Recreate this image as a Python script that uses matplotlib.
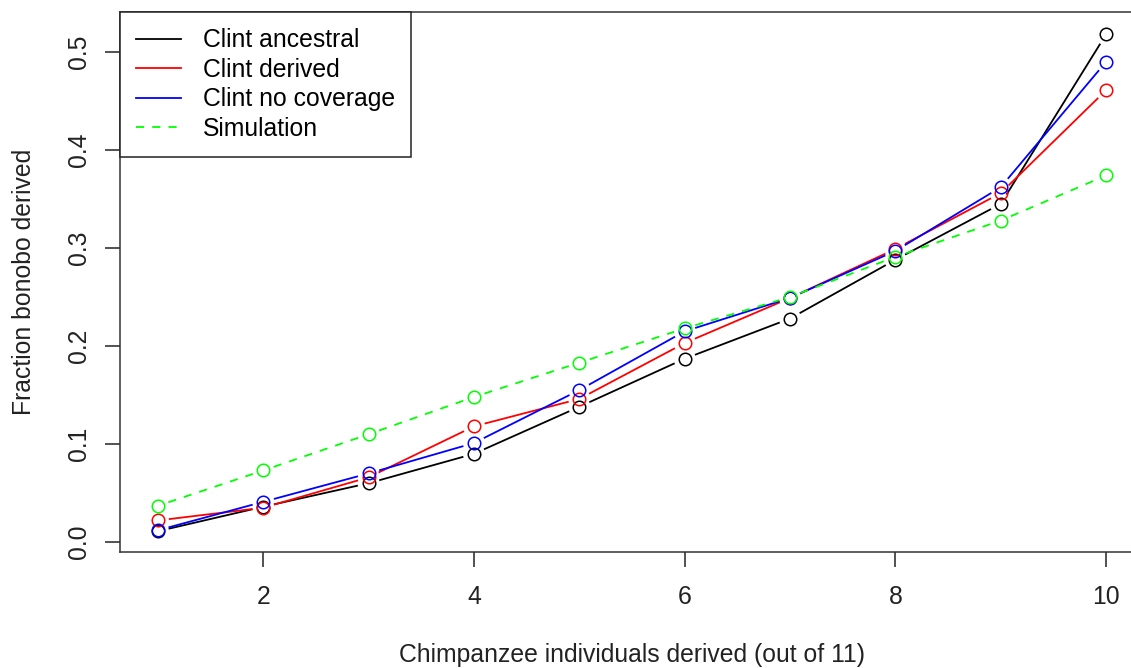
import numpy as np
import matplotlib
matplotlib.use('Agg')
import matplotlib.pyplot as plt

plt.rcParams['font.family'] = ['Liberation Sans', 'DejaVu Sans']

# fraction of bonobo derived per count of derived chimpanzees
n_derived = [1, 2, 3, 4, 5, 6, 7, 8, 9, 10]
clint_ancestral = [0.011, 0.036, 0.060, 0.090, 0.138, 0.187, 0.228, 0.288, 0.345, 0.518]
clint_derived = [0.022, 0.035, 0.066, 0.118, 0.146, 0.203, 0.249, 0.299, 0.356, 0.461]
clint_nocov = [0.012, 0.041, 0.070, 0.101, 0.155, 0.215, 0.249, 0.297, 0.362, 0.490]
simulation = [0.037, 0.073, 0.110, 0.148, 0.183, 0.218, 0.250, 0.291, 0.328, 0.374]

series = [
    ('Clint ancestral', clint_ancestral, 'black', '-'),
    ('Clint derived', clint_derived, '#ff0000', '-'),
    ('Clint no coverage', clint_nocov, '#0000ff', '-'),
    ('Simulation', simulation, '#00ff00', (0, (4.5, 4.5))),
]

DPI = 100
fig = plt.figure(figsize=(11.31, 6.68), dpi=DPI)
ax = fig.add_axes([120 / 1131, 116 / 668, 1024 / 1131, 539.6 / 668])
ax.set_xlim(0.64, 10.36)
ax.set_ylim(-0.0102, 0.5404)

FS = 17.8
GAP = 11  # px gap between line ends and markers, like R type="b"


def gapped_segments(x, y):
    # shorten each segment in pixel space so it stops short of the circles
    pts = ax.transData.transform(np.column_stack([x, y]))
    inv = ax.transData.inverted()
    segs = []
    for p0, p1 in zip(pts[:-1], pts[1:]):
        d = p1 - p0
        L = np.hypot(*d)
        if L <= 2 * GAP:
            continue
        u = d / L
        a = inv.transform(p0 + u * GAP)
        b = inv.transform(p1 - u * GAP)
        segs.append((a, b))
    return segs


handles = []
for name, vals, col, ls in series:
    for a, b in gapped_segments(n_derived, vals):
        ax.plot([a[0], b[0]], [a[1], b[1]], color=col, lw=1.3, linestyle=ls,
                solid_capstyle='butt', dash_capstyle='butt')
    ax.plot(n_derived, vals, linestyle='none', marker='o', markersize=9,
            markerfacecolor='none', markeredgecolor=col, markeredgewidth=1.1)
    h, = ax.plot([], [], color=col, lw=1.3, linestyle=ls, label=name)
    handles.append(h)

ax.set_xticks([2, 4, 6, 8, 10])
ax.set_yticks([0.0, 0.1, 0.2, 0.3, 0.4, 0.5])
ax.set_yticklabels(['0.0', '0.1', '0.2', '0.3', '0.4', '0.5'])
ax.tick_params(axis='both', direction='out', length=11, width=1.1,
               labelsize=FS, colors='#222222')
ax.tick_params(axis='x', pad=13)
ax.tick_params(axis='y', pad=10)
plt.setp(ax.get_yticklabels(), rotation=90, va='center')

for side in ['left', 'bottom', 'top', 'right']:
    ax.spines[side].set_color('#333333')
    ax.spines[side].set_linewidth(1.1)

ax.set_xlabel('Chimpanzee individuals derived (out of 11)', fontsize=FS,
              color='#222222', labelpad=24)
ax.set_ylabel('Fraction bonobo derived', fontsize=FS, color='#222222',
              labelpad=22)

leg = ax.legend(handles=handles, loc='upper left', borderaxespad=0,
                fontsize=FS, fancybox=False, framealpha=1, edgecolor='#222222',
                handlelength=1.8, handletextpad=0.9, labelspacing=0.22,
                borderpad=0.65)
leg.get_frame().set_linewidth(1.1)

fig.savefig('out.png', dpi=DPI)
